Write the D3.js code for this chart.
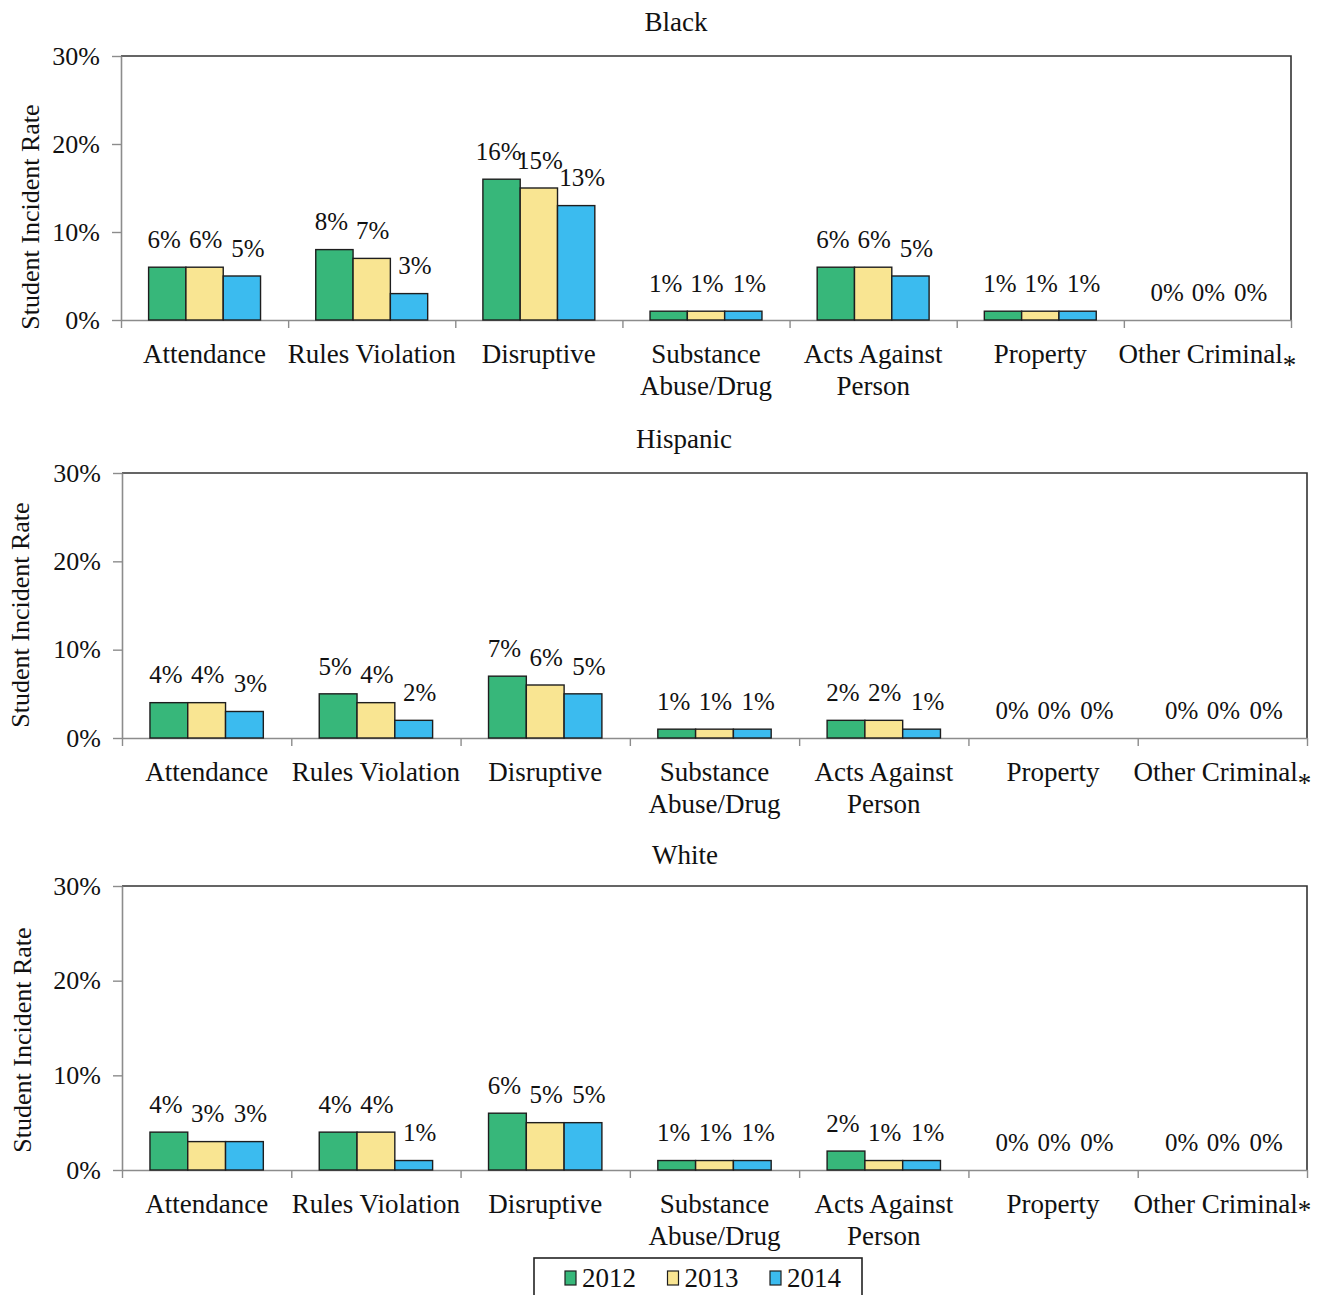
<!DOCTYPE html>
<html>
<head>
<meta charset="utf-8">
<script src="https://cdn.jsdelivr.net/npm/d3@7"></script>
<style>
  html, body { margin: 0; padding: 0; background: #fff; }
  svg { display: block; font-family: "Liberation Serif", "Times New Roman", serif; }
</style>
</head>
<body>
<svg id="chart" width="1332" height="1295"></svg>
<script>
// ---- data ----
const categories = ["Attendance", "Rules Violation", "Disruptive", "Substance Abuse/Drug", "Acts Against Person", "Property", "Other Criminal*"];
const categoryLines = [["Attendance"], ["Rules Violation"], ["Disruptive"], ["Substance", "Abuse/Drug"], ["Acts Against", "Person"], ["Property"], ["Other Criminal*"]];
const years = ["2012", "2013", "2014"];
const yTicks = [0, 10, 20, 30];

const black2012 = [6, 8, 16, 1, 6, 1, 0];
const black2013 = [6, 7, 15, 1, 6, 1, 0];
const black2014 = [5, 3, 13, 1, 5, 1, 0];

const hispanic2012 = [4, 5, 7, 1, 2, 0, 0];
const hispanic2013 = [4, 4, 6, 1, 2, 0, 0];
const hispanic2014 = [3, 2, 5, 1, 1, 0, 0];

const white2012 = [4, 4, 6, 1, 2, 0, 0];
const white2013 = [3, 4, 5, 1, 1, 0, 0];
const white2014 = [3, 1, 5, 1, 1, 0, 0];

const colors = ["#37b77a", "#f9e592", "#3bbbef"];

// ---- layout ----
const panels = [
  { title: "Black", series: [black2012, black2013, black2014], left: 121, right: 1291, top: 56, bottom: 320, titleX: 676, titleY: 22, axisTitleX: 30, axisTitleY: 217, starDy: 11 },
  { title: "Hispanic", series: [hispanic2012, hispanic2013, hispanic2014], left: 122, right: 1307, top: 473, bottom: 738, titleX: 684, titleY: 439, axisTitleX: 20, axisTitleY: 615, starDy: 11 },
  { title: "White", series: [white2012, white2013, white2014], left: 122, right: 1307, top: 886, bottom: 1170, titleX: 685, titleY: 855, axisTitleX: 22, axisTitleY: 1040, starDy: 6 }
];
const labelDx = [-3, 1, 6];

const svg = d3.select("#chart");

panels.forEach(p => {
  const g = svg.append("g");
  const x = d3.scaleBand().domain(categories).range([p.left, p.right]).paddingInner(0).paddingOuter(0);
  const xs = d3.scaleBand().domain(years).range([0, x.bandwidth()]).paddingInner(0).paddingOuter(0.74);
  const y = d3.scaleLinear().domain([0, 30]).range([p.bottom, p.top]);
  const xTickScale = d3.scaleLinear().domain([0, categories.length]).range([p.left, p.right]);

  // title
  g.append("text").attr("x", p.titleX).attr("y", p.titleY).attr("dy", "0.35em")
    .attr("text-anchor", "middle").attr("font-size", 27).attr("fill", "#111").text(p.title);

  // y axis title
  g.append("text")
    .attr("transform", `translate(${p.axisTitleX},${p.axisTitleY}) rotate(-90)`)
    .attr("dy", "0.35em").attr("text-anchor", "middle").attr("font-size", 26).attr("fill", "#111")
    .text("Student Incident Rate");

  // top and right border
  g.append("path")
    .attr("d", `M${p.left},${y(30)}H${p.right}V${y(0)}`)
    .attr("fill", "none").attr("stroke", "#333").attr("stroke-width", 1.6);

  // y axis
  const yAxis = d3.axisLeft(y).tickValues(yTicks).tickFormat(d => d + "%").tickSize(9).tickSizeOuter(0).tickPadding(12);
  const ya = g.append("g").attr("transform", `translate(${p.left},0)`).call(yAxis);
  ya.select(".domain").attr("stroke", "#8c8c8c").attr("stroke-width", 1.6);
  ya.selectAll(".tick line").attr("stroke", "#8c8c8c").attr("stroke-width", 1.4);
  ya.selectAll(".tick text").attr("font-size", 26).attr("font-family", "Liberation Serif").attr("fill", "#111");

  // x axis (category boundary ticks)
  const xAxis = d3.axisBottom(xTickScale).ticks(categories.length).tickFormat("").tickSize(8).tickSizeOuter(0);
  const xa = g.append("g").attr("transform", `translate(0,${p.bottom})`).call(xAxis);
  xa.select(".domain").attr("stroke", "#8c8c8c").attr("stroke-width", 1.6);
  xa.selectAll(".tick line").attr("stroke", "#8c8c8c").attr("stroke-width", 1.4);

  // category labels
  categories.forEach((c, i) => {
    const cx = x(c) + x.bandwidth() / 2;
    const t = g.append("text").attr("x", cx).attr("y", p.bottom + 34)
      .attr("text-anchor", "middle").attr("font-size", 27).attr("fill", "#111");
    categoryLines[i].forEach((line, li) => {
      const dy = li === 0 ? "0.35em" : 32;
      if (line.endsWith("*")) {
        t.append("tspan").attr("x", cx).attr("dy", dy).text(line.slice(0, -1));
        t.append("tspan").attr("dy", p.starDy).text("*");
      } else {
        t.append("tspan").attr("x", cx).attr("dy", dy).text(line);
      }
    });
  });

  // bars and labels
  years.forEach((yr, si) => {
    const vals = p.series[si];
    const data = categories.map((c, i) => ({ c, v: vals[i] }));
    g.append("g").selectAll("rect").data(data.filter(d => d.v > 0)).join("rect")
      .attr("x", d => x(d.c) + xs(yr))
      .attr("y", d => y(d.v))
      .attr("width", xs.bandwidth())
      .attr("height", d => y(0) - y(d.v))
      .attr("fill", colors[si])
      .attr("stroke", "#1e1e1e").attr("stroke-width", 1.4);
    g.append("g").selectAll("text").data(data).join("text")
      .attr("x", d => x(d.c) + xs(yr) + xs.bandwidth() / 2 + labelDx[si])
      .attr("y", d => y(d.v) - 28)
      .attr("dy", "0.35em").attr("text-anchor", "middle")
      .attr("font-size", 25).attr("fill", "#111")
      .text(d => d.v + "%");
  });
});

// legend
const lg = svg.append("g");
lg.append("rect").attr("x", 534).attr("y", 1258).attr("width", 328).attr("height", 50)
  .attr("fill", "#fff").attr("stroke", "#222").attr("stroke-width", 1.6);
const legendX = d3.scalePoint().domain(years).range([565, 770]);
years.forEach((yr, i) => {
  lg.append("rect").attr("x", legendX(yr)).attr("y", 1271).attr("width", 11).attr("height", 14)
    .attr("fill", colors[i]).attr("stroke", "#1e1e1e").attr("stroke-width", 1.2);
  lg.append("text").attr("x", legendX(yr) + 17).attr("y", 1278).attr("dy", "0.35em")
    .attr("font-size", 27).attr("fill", "#111").text(yr);
});
</script>
</body>
</html>
